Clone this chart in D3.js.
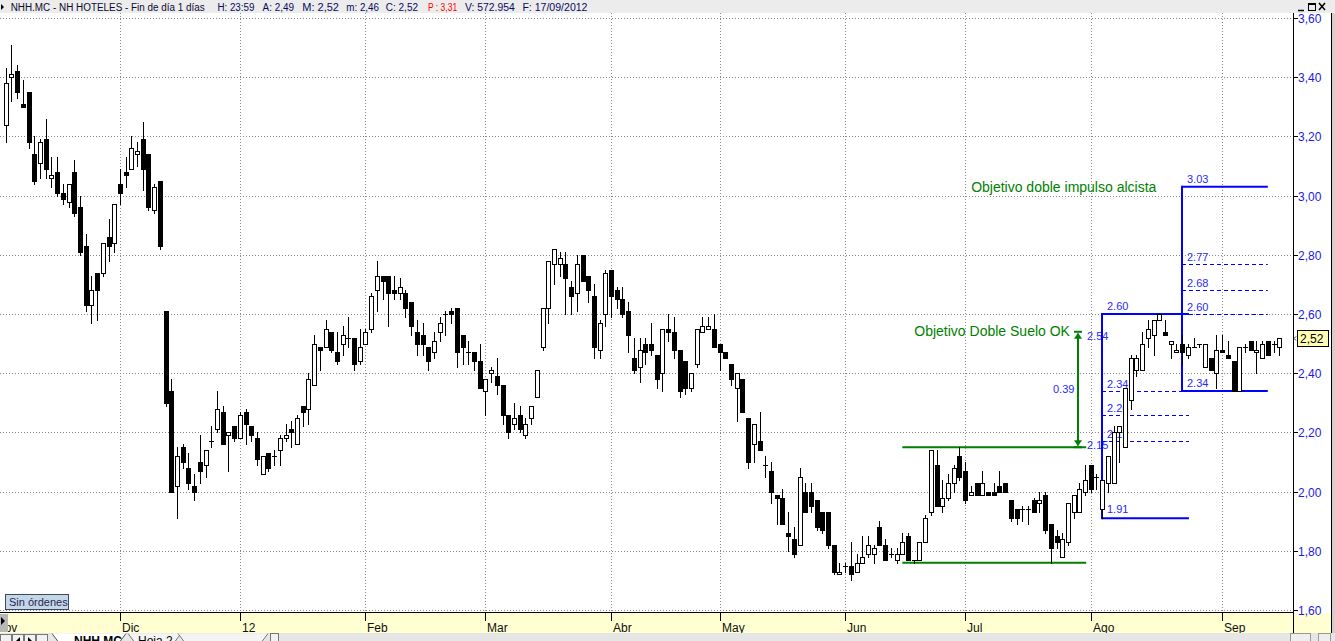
<!DOCTYPE html>
<html><head><meta charset="utf-8">
<script src="https://cdn.jsdelivr.net/npm/d3@7/dist/d3.min.js"></script>
<style>html,body{margin:0;padding:0;background:#fff;overflow:hidden}svg{display:block;font-family:"Liberation Sans",Arial,sans-serif}</style>
</head><body><svg id="c" width="1335" height="641"></svg>
<script>
// ---------- DATA ----------
// trading-day index of the first candle (0 = 1 Dic 2011)
const firstDay = -20;
const opens = [
3.24,3.40,3.42,3.31,3.35,3.14,3.11,3.19,3.06,3.08,
3.01,2.98,3.08,2.96,2.83,2.63,2.74,2.74,2.86,2.84,
3.04,3.08,3.09,3.14,3.19,3.14,2.95,3.05,2.61,2.34,
2.02,2.15,2.08,2.02,2.10,2.09,2.17,2.21,2.27,2.19,
2.22,2.18,2.27,2.22,2.18,2.06,2.13,2.12,2.14,2.18,
2.21,2.16,2.29,2.28,2.36,2.49,2.49,2.54,2.47,2.50,
2.52,2.52,2.44,2.50,2.55,2.68,2.73,2.73,2.68,2.67,
2.67,2.64,2.54,2.53,2.49,2.47,2.54,2.60,2.61,2.62,
2.53,2.47,2.47,2.44,2.34,2.40,2.39,2.36,2.26,2.23,
2.26,2.19,2.25,2.32,2.49,2.62,2.77,2.77,2.77,2.69,
2.67,2.80,2.73,2.66,2.48,2.60,2.75,2.68,2.65,2.61,
2.45,2.42,2.50,2.50,2.46,2.40,2.55,2.54,2.48,2.44,
2.35,2.43,2.54,2.55,2.55,2.50,2.47,2.43,2.35,2.38,
2.25,2.16,2.17,2.09,2.07,1.99,1.98,1.86,1.84,1.82,
2.00,2.00,1.97,1.93,1.93,1.82,1.72,1.75,1.75,1.73,
1.76,1.79,1.79,1.88,1.82,1.79,1.77,1.79,1.85,1.77,
1.77,1.83,1.93,2.09,1.95,1.98,2.03,2.12,2.07,1.99,
2.03,1.99,2.00,2.00,2.02,2.03,1.97,1.94,1.94,1.94,
1.97,1.96,1.99,1.89,1.85,1.78,1.83,1.93,1.93,2.00,
2.09,2.05,1.94,2.03,2.03,2.20,2.15,2.31,2.41,2.41,
2.52,2.53,2.58,2.54,2.50,2.47,2.50,2.46,2.49,2.50,
2.42,2.45,2.40,2.48,2.46,2.44,2.34,2.49,2.51,2.47,
2.45,2.51,2.50,2.49];
const highs = [
3.43,3.51,3.44,3.39,3.35,3.20,3.19,3.26,3.13,3.13,
3.04,3.04,3.12,3.00,2.87,2.73,2.74,2.84,2.92,2.97,
3.09,3.13,3.20,3.18,3.25,3.14,3.04,3.05,2.61,2.38,
2.15,2.16,2.13,2.06,2.19,2.14,2.22,2.34,2.29,2.20,
2.22,2.27,2.28,2.22,2.20,2.12,2.13,2.14,2.19,2.23,
2.24,2.26,2.29,2.40,2.53,2.49,2.58,2.54,2.54,2.56,
2.59,2.52,2.55,2.55,2.67,2.78,2.73,2.73,2.73,2.72,
2.68,2.64,2.58,2.57,2.49,2.54,2.59,2.61,2.62,2.62,
2.53,2.51,2.47,2.50,2.38,2.42,2.45,2.36,2.26,2.30,
2.29,2.25,2.29,2.41,2.62,2.78,2.82,2.81,2.81,2.71,
2.80,2.80,2.73,2.70,2.58,2.75,2.75,2.69,2.69,2.64,
2.52,2.52,2.52,2.57,2.46,2.55,2.60,2.59,2.48,2.44,
2.40,2.55,2.59,2.59,2.60,2.50,2.47,2.43,2.40,2.38,
2.25,2.23,2.27,2.12,2.10,1.99,2.01,1.93,1.88,2.08,
2.03,2.03,1.97,1.93,1.93,1.82,1.76,1.76,1.83,1.79,
1.85,1.85,1.82,1.90,1.84,1.81,1.81,1.86,1.86,1.77,
1.83,1.92,2.14,2.14,2.04,2.06,2.09,2.15,2.10,2.02,
2.03,2.07,2.00,2.03,2.07,2.03,1.97,1.94,1.95,1.95,
1.98,2.00,2.00,1.89,1.87,1.86,1.96,1.99,2.03,2.09,
2.09,2.06,2.04,2.12,2.22,2.22,2.35,2.46,2.46,2.54,
2.58,2.58,2.60,2.58,2.51,2.50,2.53,2.50,2.52,2.50,
2.50,2.45,2.53,2.53,2.51,2.44,2.49,2.50,2.51,2.51,
2.51,2.51,2.51,2.52];
const lows = [
3.18,3.32,3.33,3.30,3.16,3.04,3.06,3.06,3.03,3.00,
2.97,2.96,2.93,2.80,2.61,2.57,2.58,2.73,2.78,2.81,
2.97,3.03,3.09,3.10,3.02,2.95,2.94,2.82,2.29,2.00,
1.91,2.08,2.01,1.97,2.03,2.05,2.15,2.20,2.16,2.07,
2.17,2.18,2.16,2.17,2.09,2.06,2.07,2.09,2.09,2.17,
2.15,2.16,2.22,2.23,2.36,2.41,2.49,2.47,2.43,2.46,
2.49,2.41,2.43,2.50,2.54,2.61,2.65,2.56,2.65,2.65,
2.59,2.53,2.46,2.46,2.41,2.45,2.51,2.53,2.57,2.42,
2.43,2.43,2.41,2.35,2.26,2.37,2.33,2.23,2.18,2.21,
2.20,2.18,2.23,2.32,2.48,2.57,2.70,2.73,2.60,2.60,
2.61,2.71,2.64,2.45,2.45,2.56,2.59,2.62,2.59,2.47,
2.40,2.37,2.43,2.46,2.35,2.34,2.51,2.45,2.32,2.33,
2.34,2.42,2.54,2.55,2.49,2.41,2.45,2.36,2.24,2.27,
2.08,2.10,2.14,2.05,1.96,1.89,1.89,1.80,1.78,1.82,
1.93,1.93,1.87,1.86,1.81,1.72,1.72,1.73,1.70,1.73,
1.76,1.78,1.76,1.82,1.77,1.78,1.76,1.79,1.77,1.76,
1.77,1.83,1.92,1.95,1.93,1.97,2.00,2.04,1.96,1.99,
1.99,1.99,1.99,1.99,2.00,2.00,1.90,1.89,1.90,1.89,
1.93,1.93,1.86,1.76,1.81,1.78,1.82,1.91,1.93,1.99,
2.00,2.01,1.91,2.00,2.03,2.10,2.15,2.28,2.39,2.41,
2.49,2.46,2.58,2.53,2.45,2.47,2.43,2.45,2.49,2.49,
2.42,2.41,2.35,2.47,2.45,2.34,2.34,2.47,2.48,2.40,
2.45,2.46,2.47,2.46];
const closes = [
3.38,3.41,3.35,3.30,3.18,3.05,3.18,3.09,3.07,3.01,
2.99,3.04,2.94,2.81,2.63,2.68,2.68,2.84,2.83,2.97,
3.01,3.07,3.16,3.15,3.09,2.96,3.03,2.83,2.30,2.00,
2.12,2.10,2.03,2.00,2.07,2.14,2.17,2.28,2.16,2.20,
2.18,2.26,2.23,2.19,2.11,2.12,2.08,2.12,2.18,2.19,
2.20,2.25,2.27,2.38,2.50,2.48,2.55,2.48,2.44,2.53,
2.52,2.43,2.49,2.54,2.66,2.73,2.71,2.67,2.67,2.69,
2.62,2.56,2.50,2.50,2.44,2.51,2.57,2.60,2.60,2.47,
2.49,2.47,2.44,2.35,2.38,2.41,2.36,2.26,2.20,2.25,
2.21,2.23,2.29,2.41,2.62,2.78,2.82,2.79,2.72,2.66,
2.77,2.71,2.68,2.49,2.57,2.74,2.66,2.65,2.60,2.53,
2.41,2.48,2.47,2.48,2.38,2.55,2.54,2.48,2.34,2.35,
2.40,2.55,2.56,2.56,2.49,2.47,2.45,2.38,2.40,2.27,
2.10,2.23,2.14,2.09,2.00,1.98,1.89,1.85,1.79,2.05,
1.93,1.95,1.88,1.87,1.82,1.73,1.73,1.75,1.72,1.76,
1.78,1.82,1.81,1.82,1.77,1.79,1.79,1.83,1.77,1.77,
1.83,1.91,2.14,1.95,1.98,2.03,2.08,2.05,1.97,2.00,
1.99,2.03,1.99,1.99,2.00,2.00,1.91,1.91,1.94,1.94,
1.93,1.97,1.87,1.81,1.83,1.84,1.96,1.99,2.01,2.04,
2.01,2.05,2.04,2.12,2.20,2.22,2.35,2.45,2.45,2.50,
2.55,2.58,2.60,2.53,2.51,2.48,2.47,2.49,2.49,2.50,
2.50,2.41,2.48,2.47,2.45,2.34,2.49,2.49,2.48,2.48,
2.50,2.46,2.50,2.52];

const monthLabels = ["Nov","Dic","12","Feb","Mar","Abr","May","Jun","Jul","Ago","Sep"];
const monthStarts = [-22,0,21,43,64,86,105,127,148,170,193];
const priceTicks = [1.6,1.8,2.0,2.2,2.4,2.6,2.8,3.0,3.2,3.4,3.6];
const lastPrice = 2.52;

// Double bottom pattern
const dbLevels = [2.15, 1.76];          // neckline, support
const dbDays = [137, 169.2];            // span of the lines
const dbTarget = [2.15, 2.54];          // projected move
const dbArrowDay = 167.8;
const dbMoveLabel = "0.39";
const dbTitle = "Objetivo Doble Suelo OK";

// Impulse 1 (1.91 -> 2.60) with retracements
const imp1Days = [172, 187.2];
const imp1Range = [1.91, 2.60];
const imp1Retr = [2.34, 2.26, 2.17];
// Impulse 2 projection (2.34 -> 3.03)
const imp2Days = [186, 201];
const imp2Range = [2.34, 3.03];
const imp2Levels = [2.77, 2.68, 2.60];
const imp2Title = "Objetivo doble impulso alcista";

// header texts
const hdrTexts = ["NHH.MC - NH HOTELES - Fin de día 1 días","H: 23:59","A: 2,49","M: 2,52","m: 2,46","C: 2,52","P : 3,31","V: 572.954","F: 17/09/2012"];

// ---------- DRAW ----------
const svg = d3.select("#c");
const W = 1335, H = 641;
const plotR = 1293, plotT = 13, plotB = 612;
const x = d3.scaleLinear().domain([-21, 205.5]).range([0, 1293.5]);
const y = d3.scaleLinear().domain([1.6, 3.6]).range([610, 18]);
const fmtDot = d3.format(".2f");
const fmtComma = v => d3.format(".2f")(v).replace(".", ",");

svg.append("rect").attr("width", W).attr("height", H).attr("fill", "#ffffff");

svg.append("defs").append("clipPath").attr("id", "pc")
  .append("rect").attr("x", 0).attr("y", plotT).attr("width", plotR).attr("height", plotB - plotT);

// grid
const grid = svg.append("g").attr("stroke", "#8a8a8a").attr("stroke-width", 1).attr("stroke-dasharray", "1,2");
priceTicks.forEach(v => {
  const yy = Math.round(y(v)) + 0.5;
  grid.append("line").attr("x1", 0).attr("x2", plotR).attr("y1", yy).attr("y2", yy);
});
monthStarts.forEach(m => {
  const xx = Math.round(x(m)) + 0.5;
  if (xx > 0) grid.append("line").attr("x1", xx).attr("x2", xx).attr("y1", plotT).attr("y2", plotB);
});

const ann = svg.append("g").attr("clip-path", "url(#pc)");
const green = "#008000", blue = "#0000ff", blueTxt = "#2a2aff";

// double bottom lines
dbLevels.forEach(v => {
  ann.append("line").attr("x1", x(dbDays[0])).attr("x2", x(dbDays[1]))
    .attr("y1", y(v)).attr("y2", y(v)).attr("stroke", green).attr("stroke-width", 2);
});
// arrow
{
  const ax = Math.round(x(dbArrowDay));
  const yt = y(dbTarget[1]), yb = y(dbTarget[0]);
  ann.append("line").attr("x1", ax).attr("x2", ax).attr("y1", yt + 2).attr("y2", yb - 2)
    .attr("stroke", green).attr("stroke-width", 2);
  ann.append("line").attr("x1", ax - 4).attr("x2", ax + 4).attr("y1", yt).attr("y2", yt).attr("stroke", green).attr("stroke-width", 2);
  ann.append("line").attr("x1", ax - 4).attr("x2", ax + 4).attr("y1", yb).attr("y2", yb).attr("stroke", green).attr("stroke-width", 2);
  ann.append("path").attr("d", `M${ax - 4},${yt + 7}L${ax + 4},${yt + 7}L${ax},${yt + 1}Z`).attr("fill", green);
  ann.append("path").attr("d", `M${ax - 4},${yb - 7}L${ax + 4},${yb - 7}L${ax},${yb - 1}Z`).attr("fill", green);
  ann.append("text").attr("x", ax + 9).attr("y", yt + 8).attr("font-size", 11).attr("fill", blueTxt).text(fmtDot(dbTarget[1]));
  ann.append("text").attr("x", ax + 9).attr("y", yb + 1.5).attr("font-size", 11).attr("fill", blueTxt).text(fmtDot(dbTarget[0]));
  ann.append("text").attr("x", ax - 25).attr("y", (yt + yb) / 2 + 4).attr("font-size", 11).attr("fill", blueTxt).text(dbMoveLabel);
  ann.append("text").attr("x", x(dbDays[0]) + 12).attr("y", yt + 4.5).attr("font-size", 14).attr("fill", green).text(dbTitle);
}

// impulse boxes
function impulseBox(days, range, levels) {
  const x0 = Math.round(x(days[0])), x1 = x(days[1]);
  const ylo = y(range[0]), yhi = y(range[1]);
  ann.append("line").attr("x1", x0).attr("x2", x0).attr("y1", yhi - 1).attr("y2", ylo + 1).attr("stroke", blue).attr("stroke-width", 2);
  [range[1], range[0]].forEach(v => {
    ann.append("line").attr("x1", x0).attr("x2", x1).attr("y1", y(v)).attr("y2", y(v)).attr("stroke", blue).attr("stroke-width", 2);
    ann.append("text").attr("x", x0 + 5).attr("y", y(v) - (v === range[0] && range[0] < 2 ? 5.5 : 4)).attr("font-size", 11).attr("fill", blueTxt).text(fmtDot(v));
  });
  levels.forEach(v => {
    const yy = Math.round(y(v)) + 0.5;
    ann.append("line").attr("x1", x0).attr("x2", x1).attr("y1", yy).attr("y2", yy).attr("stroke", blue).attr("stroke-width", 1.2).attr("stroke-dasharray", "4,3");
    ann.append("text").attr("x", x0 + 5).attr("y", yy - 4).attr("font-size", 11).attr("fill", blueTxt).text(fmtDot(v));
  });
}
impulseBox(imp1Days, imp1Range, imp1Retr);
impulseBox(imp2Days, imp2Range, imp2Levels);
ann.append("text").attr("x", x(imp2Days[0]) - 211).attr("y", y(imp2Range[1]) + 5).attr("font-size", 14).attr("fill", green).text(imp2Title);

// candles
const candles = opens.map((o, k) => ({ d: firstDay + k, o, h: highs[k], l: lows[k], c: closes[k] }));
const cg = svg.append("g").attr("clip-path", "url(#pc)");
candles.forEach(dd => {
  const px = Math.round(x(dd.d));
  const yh = Math.round(y(dd.h)), yl = Math.round(y(dd.l));
  const yo = Math.round(y(dd.o)), yc = Math.round(y(dd.c));
  cg.append("line").attr("x1", px + 0.5).attr("x2", px + 0.5).attr("y1", yh).attr("y2", yl + 1)
    .attr("stroke", "#000").attr("stroke-width", 1);
  if (yo === yc) {
    cg.append("line").attr("x1", px - 2).attr("x2", px + 3).attr("y1", yo + 0.5).attr("y2", yo + 0.5)
      .attr("stroke", "#000").attr("stroke-width", 1);
  } else {
    const top = Math.min(yo, yc), bot = Math.max(yo, yc);
    cg.append("rect").attr("x", px - 1.5).attr("y", top + 0.5).attr("width", 4).attr("height", bot - top)
      .attr("fill", dd.c >= dd.o ? "#fff" : "#000").attr("stroke", "#000").attr("stroke-width", 1);
  }
});

// "Sin órdenes" box
svg.append("rect").attr("x", 5.5).attr("y", 594.5).attr("width", 63).attr("height", 15)
  .attr("fill", "#c6d6e6").attr("stroke", "#3a4a66").attr("stroke-width", 1);
svg.append("text").attr("x", 9).attr("y", 606).attr("font-size", 11).attr("fill", "#1a2a55").text("Sin órdenes");

// bottom axis band
svg.append("rect").attr("x", 0).attr("y", 613).attr("width", 1331).attr("height", 20).attr("fill", "#ffffd2");
svg.append("line").attr("x1", 0).attr("x2", 1331).attr("y1", 612.5).attr("y2", 612.5).attr("stroke", "#000");
monthStarts.forEach((m, k) => {
  const xx = Math.round(x(m)) + 0.5;
  svg.append("line").attr("x1", xx).attr("x2", xx).attr("y1", 613).attr("y2", 621).attr("stroke", "#000");
  svg.append("text").attr("x", xx + 1.5).attr("y", 632).attr("font-size", 12).attr("fill", "#111").text(monthLabels[k]);
});
// left little box with triangle
svg.append("rect").attr("x", 0).attr("y", 614).attr("width", 8).attr("height", 18).attr("fill", "#b8b8b8");
svg.append("path").attr("d", "M1,617L5,621L1,625Z").attr("fill", "#000");

// right axis
svg.append("rect").attr("x", plotR + 1).attr("y", plotT).attr("width", 37).attr("height", 600).attr("fill", "#fff");
svg.append("line").attr("x1", plotR + 0.5).attr("x2", plotR + 0.5).attr("y1", plotT).attr("y2", 633).attr("stroke", "#000");
svg.append("line").attr("x1", 1331.5).attr("x2", 1331.5).attr("y1", plotT).attr("y2", 633).attr("stroke", "#000");
svg.append("rect").attr("x", 1332).attr("y", 0).attr("width", 3).attr("height", H).attr("fill", "#d4d0c8");
priceTicks.forEach(v => {
  const yy = Math.round(y(v)) + 0.5;
  svg.append("line").attr("x1", plotR).attr("x2", plotR + 5).attr("y1", yy).attr("y2", yy).attr("stroke", "#000");
  svg.append("text").attr("x", plotR + 5).attr("y", yy).attr("dy", "0.36em").attr("font-size", 12).attr("fill", "#1c1ce0").text(fmtComma(v));
});
// last price tag
{
  const yy = Math.round(y(lastPrice)) + 0.5;
  svg.append("rect").attr("x", 1297.5).attr("y", yy - 8).attr("width", 31).attr("height", 16)
    .attr("fill", "#ffffb4").attr("stroke", "#000");
  svg.append("text").attr("x", 1300).attr("y", yy).attr("dy", "0.36em").attr("font-size", 12).attr("fill", "#000").text(fmtComma(lastPrice));
  svg.append("path").attr("d", `M1296,${yy - 2}L1294,${yy}L1296,${yy + 2}`).attr("fill", "none").attr("stroke", "#000").attr("stroke-width", 0.8);
}

// header bar
svg.append("rect").attr("x", 0).attr("y", 0).attr("width", W).attr("height", 13).attr("fill", "#ececec");
svg.append("path").attr("d", "M1,4L4,7L1,10Z").attr("fill", "#000");
const hdrX = [10.7, 217.4, 262.5, 302.3, 346.3, 385.8, 427.9, 465, 522.4];
const hdrW = [194, 37, 31.5, 36.7, 32.7, 32.2, 29.4, 49.7, 65.1];
hdrTexts.forEach((t, k) => {
  svg.append("text").attr("x", hdrX[k]).attr("y", 11).attr("font-size", 10)
    .attr("fill", k === 6 ? "#ff0000" : (k === 0 ? "#0a0a30" : "#0a0a60"))
    .attr("textLength", hdrW[k]).attr("lengthAdjust", "spacingAndGlyphs").text(t);
});
// window buttons
svg.append("line").attr("x1", 1298).attr("x2", 1304).attr("y1", 10.5).attr("y2", 10.5).attr("stroke", "#000").attr("stroke-width", 1.5);
svg.append("rect").attr("x", 1308.5).attr("y", 3.5).attr("width", 7).attr("height", 7).attr("fill", "none").attr("stroke", "#000").attr("stroke-width", 1);
svg.append("line").attr("x1", 1308.5).attr("x2", 1315.5).attr("y1", 4).attr("y2", 4).attr("stroke", "#000").attr("stroke-width", 2);
svg.append("path").attr("d", "M1319,3L1325,10M1325,3L1319,10").attr("stroke", "#000").attr("stroke-width", 1.5);

// bottom tab bar
svg.append("rect").attr("x", 0).attr("y", 633).attr("width", W).attr("height", 8).attr("fill", "#e6e6e6");
const btnX = [0, 12, 24, 36];
btnX.forEach(bx => {
  svg.append("rect").attr("x", bx + 0.5).attr("y", 634.5).attr("width", 11).attr("height", 8).attr("fill", "#f2f2f2").attr("stroke", "#777");
});
svg.append("path").attr("d", "M16,641L20,637L20,641Z M28,637L32,641L28,641Z").attr("fill", "#000");
svg.append("path").attr("d", "M52,633.5L58,641.5L120,641.5L126,633.5").attr("fill", "#fff").attr("stroke", "#555");
svg.append("text").attr("x", 74).attr("y", 645).attr("font-size", 12).attr("font-weight", "bold").attr("fill", "#000").text("NHH.MC");
svg.append("path").attr("d", "M128,633.5L134,641.5L175,641.5L181,633.5").attr("fill", "#f4f4f4").attr("stroke", "#777");
svg.append("text").attr("x", 138).attr("y", 645).attr("font-size", 12).attr("fill", "#000").text("Hoja 2");
svg.append("path").attr("d", "M178,633.5L184,641.5L262,641.5L268,633.5").attr("fill", "#f4f4f4").attr("stroke", "#777");
svg.append("rect").attr("x", 270.5).attr("y", 633.5).attr("width", 8).attr("height", 8).attr("fill", "#f2f2f2").attr("stroke", "#777");
svg.append("rect").attr("x", 1290.5).attr("y", 633.5).attr("width", 20).attr("height", 8).attr("fill", "#eee").attr("stroke", "#999");
svg.append("rect").attr("x", 1318.5).attr("y", 633.5).attr("width", 12).attr("height", 8).attr("fill", "#eee").attr("stroke", "#999");
</script></body></html>
